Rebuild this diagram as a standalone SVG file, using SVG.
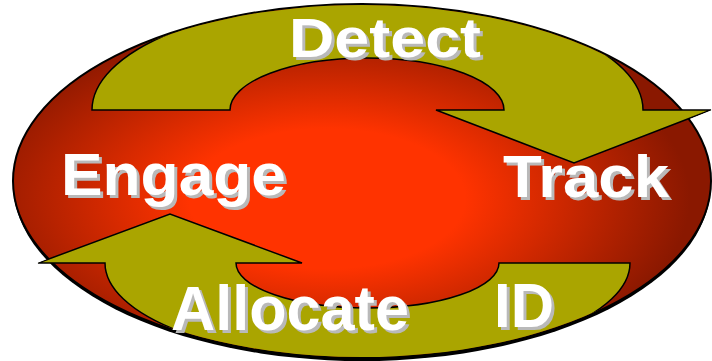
<svg xmlns="http://www.w3.org/2000/svg" width="712" height="361" viewBox="0 0 712 361">
  <defs>
    <radialGradient id="core" cx="0.45" cy="0.55" r="0.52">
      <stop offset="0" stop-color="#FF3300"/>
      <stop offset="0.38" stop-color="#FF3300"/>
      <stop offset="1" stop-color="#8A1800"/>
    </radialGradient>
    <clipPath id="clipTop">
      <ellipse cx="362" cy="181" rx="348" ry="176"/>
      <polygon points="430,108 574,166 717,108"/>
    </clipPath>
    <clipPath id="clipBottom">
      <ellipse cx="362" cy="181" rx="348" ry="176"/>
      <polygon points="32,265 170,211 308,265"/>
    </clipPath>
    <style>
      .arrow { fill: #AAA500; stroke: #000; stroke-width: 1.5; stroke-linejoin: miter; }
      .lbl { font-family: "Liberation Sans", Arial, sans-serif; font-weight: bold; }
      .shadow { fill: #B9B9B9; }
      .face { fill: #FFFFFF; }
    </style>
  </defs>

  <!-- base disc with drop shadow -->
  <g id="disc">
    <ellipse cx="362" cy="184" rx="349" ry="177" fill="#000"/>
    <ellipse cx="362" cy="181" rx="349" ry="177" fill="url(#core)" stroke="#000" stroke-width="2"/>
  </g>

  <!-- cycle arrows -->
  <g id="connectors">
    <path class="arrow" clip-path="url(#clipTop)"
          d="M92,110 A275.5,110 0 0 1 643,110 L711,110 L574,163 L436,110 L504,110 A137,52 0 0 0 230,110 Z"/>
    <path class="arrow" clip-path="url(#clipBottom)"
          d="M630,263 A262.5,98 0 0 1 105,263 L38,263 L170,214 L302,263 L236,263 A131.5,45 0 0 0 499,263 Z"/>
  </g>

  <!-- stage labels: grey offset copy under white lettering -->
  <g id="detect" class="lbl" font-size="55">
    <text class="shadow" x="292" y="60" textLength="192" lengthAdjust="spacingAndGlyphs">Detect</text>
    <text class="face" x="289" y="57" textLength="192" lengthAdjust="spacingAndGlyphs">Detect</text>
  </g>
  <g id="engage" class="lbl" font-size="59">
    <text class="shadow" x="64" y="198" textLength="225" lengthAdjust="spacingAndGlyphs">Engage</text>
    <text class="face" x="61" y="195" textLength="225" lengthAdjust="spacingAndGlyphs">Engage</text>
  </g>
  <g id="track" class="lbl" font-size="59">
    <text class="shadow" x="506" y="200" textLength="166" lengthAdjust="spacingAndGlyphs">Track</text>
    <text class="face" x="503" y="197" textLength="166" lengthAdjust="spacingAndGlyphs">Track</text>
  </g>
  <g id="allocate" class="lbl" font-size="63">
    <text class="shadow" x="174" y="333" textLength="238" lengthAdjust="spacingAndGlyphs">Allocate</text>
    <text class="face" x="171" y="330" textLength="238" lengthAdjust="spacingAndGlyphs">Allocate</text>
  </g>
  <g id="id" class="lbl" font-size="63">
    <text class="shadow" x="497" y="330" textLength="60" lengthAdjust="spacingAndGlyphs">ID</text>
    <text class="face" x="494" y="327" textLength="60" lengthAdjust="spacingAndGlyphs">ID</text>
  </g>
</svg>
